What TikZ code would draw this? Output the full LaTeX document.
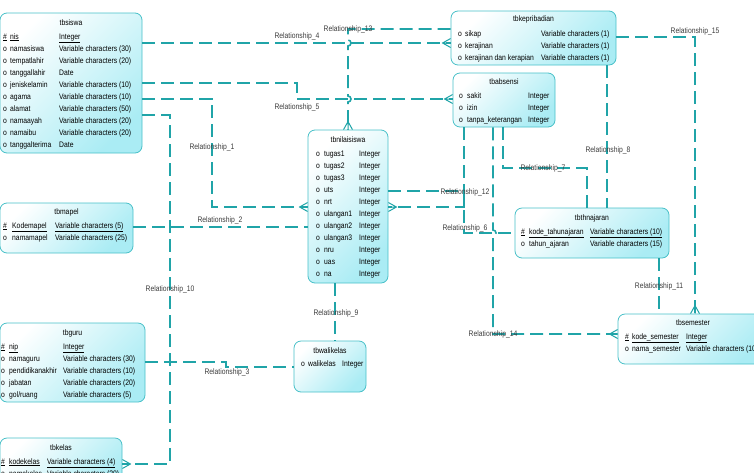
\documentclass[tikz,border=0pt]{standalone}
\usepackage{fontspec}
\setmainfont{Liberation Sans}[FakeStretch=0.85]
\usetikzlibrary{positioning, arrows.meta, calc}

\definecolor{relline}{RGB}{32,164,168}
\definecolor{boxline}{RGB}{72,192,200}
\definecolor{boxcyan}{RGB}{170,236,244}
\definecolor{labgray}{RGB}{60,60,60}

\newcommand{\pk}[1]{\underline{#1}}

% crow's foot end for the many side
\pgfdeclarearrow{
  name = Crow,
  parameters = {\the\pgfarrowlength,\the\pgfarrowwidth},
  setup code = {
    \pgfarrowssettipend{0pt}
    \pgfarrowssetlineend{0pt}
    \pgfarrowssetbackend{-\pgfarrowlength}
    \pgfarrowssetvisualbackend{-\pgfarrowlength}
    \pgfarrowshullpoint{0pt}{.5\pgfarrowwidth}
    \pgfarrowshullpoint{0pt}{-.5\pgfarrowwidth}
    \pgfarrowshullpoint{-\pgfarrowlength}{0pt}
    \pgfarrowssavethe\pgfarrowlength
    \pgfarrowssavethe\pgfarrowwidth
  },
  drawing code = {
    \pgfsetdash{}{0pt}
    \pgfsetlinewidth{1pt}
    \pgfpathmoveto{\pgfqpoint{0pt}{.5\pgfarrowwidth}}
    \pgfpathlineto{\pgfqpoint{-\pgfarrowlength}{0pt}}
    \pgfpathlineto{\pgfqpoint{0pt}{-.5\pgfarrowwidth}}
    \pgfpathmoveto{\pgfqpoint{-\pgfarrowlength}{0pt}}
    \pgfpathlineto{\pgfqpoint{0pt}{0pt}}
    \pgfusepathqstroke
  },
  defaults = {length=8pt, width=9pt}
}

\begin{document}
\begin{tikzpicture}[
    x=1pt, y=-1pt,
    font=\fontsize{8}{12}\selectfont,
    entity/.style={draw=boxline, line width=0.8pt, rounded corners=7pt, top color=white, bottom color=boxcyan, shading angle=45, inner sep=0pt},
    title/.style={anchor=base, inner sep=0pt},
    attrs/.style={anchor=base west, inner sep=0pt},
    rel/.style={draw=relline, line width=1.6pt, dash pattern=on 13pt off 6pt},
    crow/.style={-{Crow[length=8pt,width=9pt]}},
    rlabel/.style={text=labgray, inner sep=0pt}
]
    \useasboundingbox (0,0) rectangle (754,472);
    \clip (0,0) rectangle (754,472);

    % --- Tables ---
    \node[entity, minimum width=142, minimum height=140] (siswa) at (71,83) {};
    \node[title] (siswat) at (71,25) {tbsiswa};
    \node[attrs] (siswaa) at (3,39) {\begin{tabular}[t]{@{}p{7pt}@{}p{49pt}@{}l@{}}
        \pk{\#} & \pk{nis} & \pk{Integer}\\
        o & namasiswa & Variable characters (30)\\
        o & tempatlahir & Variable characters (20)\\
        o & tanggallahir & Date\\
        o & jeniskelamin & Variable characters (10)\\
        o & agama & Variable characters (10)\\
        o & alamat & Variable characters (50)\\
        o & namaayah & Variable characters (20)\\
        o & namaibu & Variable characters (20)\\
        o & tanggalterima & Date
    \end{tabular}};

    \node[entity, minimum width=133, minimum height=50] (mapel) at (66.5,228) {};
    \node[title] (mapelt) at (66.5,214) {tbmapel};
    \node[attrs] (mapela) at (3,228) {\begin{tabular}[t]{@{}p{9pt}@{}p{43pt}@{}l@{}}
        \pk{\#} & \pk{Kodemapel} & \pk{Variable characters (5)}\\
        o & namamapel & Variable characters (25)
    \end{tabular}};

    \node[entity, minimum width=145, minimum height=79] (guru) at (72.5,362.5) {};
    \node[title] (gurut) at (72.5,335) {tbguru};
    \node[attrs] (gurua) at (1,349) {\begin{tabular}[t]{@{}p{8pt}@{}p{54pt}@{}l@{}}
        \pk{\#} & \pk{nip} & \pk{Integer}\\
        o & namaguru & Variable characters (30)\\
        o & pendidikanakhir & Variable characters (10)\\
        o & jabatan & Variable characters (20)\\
        o & gol/ruang & Variable characters (5)
    \end{tabular}};

    \node[entity, minimum width=122, minimum height=54] (kelas) at (61,465) {};
    \node[title] (kelast) at (61,450) {tbkelas};
    \node[attrs] (kelasa) at (1,464) {\begin{tabular}[t]{@{}p{8pt}@{}p{38pt}@{}l@{}}
        \pk{\#} & \pk{kodekelas} & \pk{Variable characters (4)}\\
        o & namakelas & Variable characters (20)
    \end{tabular}};

    \node[entity, minimum width=80, minimum height=153] (nilai) at (348,206.5) {};
    \node[title] (nilait) at (348,142) {tbnilaisiswa};
    \node[attrs] (nilaia) at (316,156) {\begin{tabular}[t]{@{}p{8pt}@{}p{35pt}@{}l@{}}
        o & tugas1 & Integer\\
        o & tugas2 & Integer\\
        o & tugas3 & Integer\\
        o & uts & Integer\\
        o & nrt & Integer\\
        o & ulangan1 & Integer\\
        o & ulangan2 & Integer\\
        o & ulangan3 & Integer\\
        o & nru & Integer\\
        o & uas & Integer\\
        o & na & Integer
    \end{tabular}};

    \node[entity, minimum width=72, minimum height=51] (wali) at (330,366.5) {};
    \node[title] (walit) at (330,353) {tbwalikelas};
    \node[attrs] (walia) at (301,366) {\begin{tabular}[t]{@{}p{7pt}@{}p{34pt}@{}l@{}}
        o & walikelas & Integer
    \end{tabular}};

    \node[entity, minimum width=165, minimum height=54] (pribadi) at (533.5,38) {};
    \node[title] (pribadit) at (533.5,21) {tbkepribadian};
    \node[attrs] (pribadia) at (458,36) {\begin{tabular}[t]{@{}p{7pt}@{}p{76pt}@{}l@{}}
        o & sikap & Variable characters (1)\\
        o & kerajinan & Variable characters (1)\\
        o & kerajinan dan kerapian & Variable characters (1)
    \end{tabular}};

    \node[entity, minimum width=102, minimum height=54] (absensi) at (504,100) {};
    \node[title] (absensit) at (504,84) {tbabsensi};
    \node[attrs] (absensia) at (459,98) {\begin{tabular}[t]{@{}p{8pt}@{}p{61pt}@{}l@{}}
        o & sakit & Integer\\
        o & izin & Integer\\
        o & tanpa\_keterangan & Integer
    \end{tabular}};

    \node[entity, minimum width=154, minimum height=50] (thajaran) at (592,233) {};
    \node[title] (thajarant) at (592,220) {tbthnajaran};
    \node[attrs] (thajarana) at (521,234) {\begin{tabular}[t]{@{}p{8pt}@{}p{61pt}@{}l@{}}
        \pk{\#} & \pk{kode\_tahunajaran} & \pk{Variable characters (10)}\\
        o & tahun\_ajaran & Variable characters (15)
    \end{tabular}};

    \node[entity, minimum width=150, minimum height=50] (semester) at (693,339) {};
    \node[title] (semestert) at (693,325) {tbsemester};
    \node[attrs] (semestera) at (625,339) {\begin{tabular}[t]{@{}p{7pt}@{}p{54pt}@{}l@{}}
        \pk{\#} & \pk{kode\_semester} & \pk{Integer}\\
        o & nama\_semester & Variable characters (10)
    \end{tabular}};

    % --- Relationships ---
    \draw[rel, crow] (siswa.east |- 0,99) -| (212,207) -- (nilai.west |- 0,207);
    \draw[rel] (mapel.east |- 0,227) -- (nilai.west |- 0,227);
    \draw[rel] (guru.east |- 0,362) -- (226,362) |- (wali.west |- 0,367);
    \draw[rel, crow] (siswa.east |- 0,43) -- (pribadi.west |- 0,43);
    \draw[rel, crow] (siswa.east |- 0,83) -| (297,99) -- (absensi.west |- 0,99);
    \draw[rel] (nilai.east |- 0,191) -| (464,233) -- (thajaran.west |- 0,233);
    \draw[rel] (absensi.south -| 503,0) |- (587,168) -- (thajaran.north -| 587,0);
    \draw[rel] (pribadi.south -| 607,0) -- (thajaran.north -| 607,0);
    \draw[rel] (nilai.south -| 335,0) -- (wali.north -| 335,0);
    \draw[rel, crow] (siswa.east |- 0,115) -| (170,464) -- (kelas.east |- 0,464);
    \draw[rel] (thajaran.south -| 659,0) -- (semester.north -| 659,0);
    \draw[rel, crow] (absensi.south -| 464,0) |- (nilai.east |- 0,207);
    \draw[rel, crow] (pribadi.west |- 0,29) -- (348,29) -- (348,40)
        arc[start angle=-90, end angle=90, radius=3] -- (348,96)
        arc[start angle=-90, end angle=90, radius=3] -- (nilai.north -| 348,0);
    \draw[rel, crow] (absensi.south -| 493,0) -- (493,230)
        arc[start angle=-90, end angle=90, radius=3] -- (493,334) -- (semester.west |- 0,334);
    \draw[rel, crow] (pribadi.east |- 0,37) -| (semester.north -| 695,0);

    % --- Relationship names ---
    \node[rlabel] (r1) at (212,147) {Relationship\_1};
    \node[rlabel] (r2) at (220,220) {Relationship\_2};
    \node[rlabel] (r3) at (227,372) {Relationship\_3};
    \node[rlabel] (r4) at (297,36) {Relationship\_4};
    \node[rlabel] (r5) at (297,107) {Relationship\_5};
    \node[rlabel] (r6) at (465,228) {Relationship\_6};
    \node[rlabel] (r7) at (543,168) {Relationship\_7};
    \node[rlabel] (r8) at (608,150) {Relationship\_8};
    \node[rlabel] (r9) at (336,313) {Relationship\_9};
    \node[rlabel] (r10) at (170,289) {Relationship\_10};
    \node[rlabel] (r11) at (659,286) {Relationship\_11};
    \node[rlabel] (r12) at (465,192) {Relationship\_12};
    \node[rlabel] (r13) at (348,29) {Relationship\_13};
    \node[rlabel] (r14) at (493,334) {Relationship\_14};
    \node[rlabel] (r15) at (695,31) {Relationship\_15};

\end{tikzpicture}
\end{document}
